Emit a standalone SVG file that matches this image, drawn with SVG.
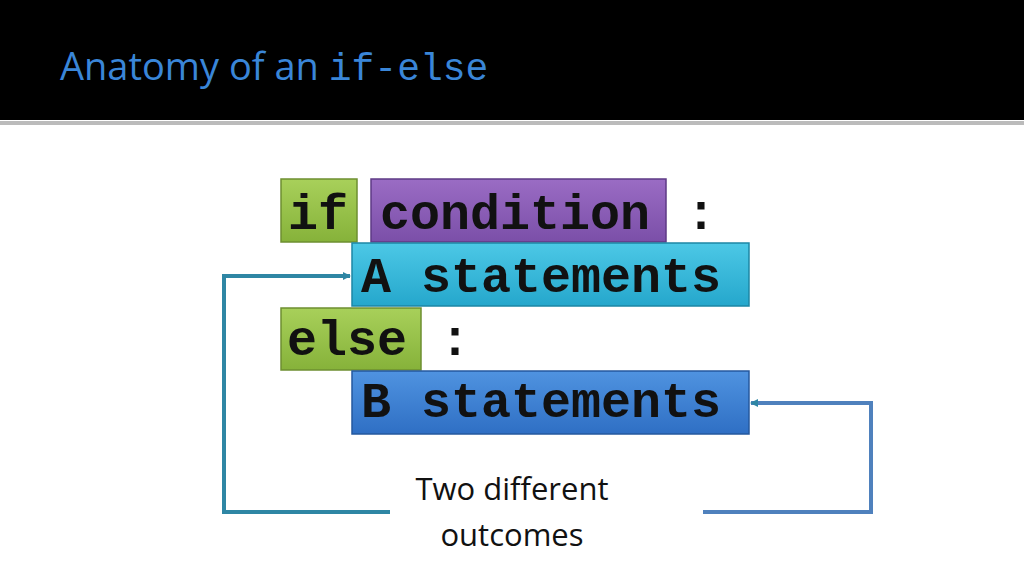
<svg xmlns="http://www.w3.org/2000/svg" width="1024" height="576" viewBox="0 0 1024 576">
<style>
.code{font-family:"Liberation Mono","Courier New",monospace;font-weight:bold;font-size:50px;fill:#111}
.lbl{font-family:"Open Sans","Liberation Sans",sans-serif;font-size:31px;fill:#111;text-anchor:middle}
.bx{stroke-width:1.5}
</style>
<defs>
<linearGradient id="g" x1="0" y1="0" x2="0" y2="1"><stop offset="0" stop-color="#a8d05a"/><stop offset="1" stop-color="#86b23a"/></linearGradient>
<linearGradient id="p" x1="0" y1="0" x2="0" y2="1"><stop offset="0" stop-color="#9a6cc4"/><stop offset="1" stop-color="#7b4fa8"/></linearGradient>
<linearGradient id="c" x1="0" y1="0" x2="0" y2="1"><stop offset="0" stop-color="#4cc8e6"/><stop offset="1" stop-color="#25a7cc"/></linearGradient>
<linearGradient id="b" x1="0" y1="0" x2="0" y2="1"><stop offset="0" stop-color="#4f93e0"/><stop offset="1" stop-color="#2f6fc4"/></linearGradient>
<marker id="a1" markerWidth="8" markerHeight="8" refX="7" refY="4" orient="auto" markerUnits="userSpaceOnUse" viewBox="0 0 8 8"><path d="M0,0L8,4L0,8z" fill="#2e86a4"/></marker>
<marker id="a2" markerWidth="8" markerHeight="8" refX="7" refY="4" orient="auto" viewBox="0 0 8 8"><path d="M0,0L8,4L0,8z" fill="#4f81bd"/></marker>
</defs>
<rect width="1024" height="576" fill="#fff"/>
<rect width="1024" height="120" fill="#000"/>
<rect y="121" width="1024" height="4" fill="#bbb"/>
<text x="60" y="80" font-family="Open Sans,Liberation Sans,sans-serif" font-size="38" fill="#3a86d8">Anatomy of an <tspan font-family="Liberation Mono,monospace" font-size="38">if-else</tspan></text>
<g id="if"><rect class="bx" x="281" y="179" width="76" height="63" fill="url(#g)" stroke="#6d8f30"/><text class="code" x="288" y="229">if</text></g>
<g id="condition"><rect class="bx" x="371" y="179" width="295" height="63" fill="url(#p)" stroke="#5e3a85"/><text class="code" x="380" y="229">condition</text></g>
<text class="code" x="686" y="229">:</text>
<g id="a"><rect class="bx" x="352" y="243" width="397" height="63" fill="url(#c)" stroke="#1d86a5"/><text class="code" x="361" y="292">A statements</text></g>
<g id="else"><rect class="bx" x="281" y="308" width="140" height="62" fill="url(#g)" stroke="#6d8f30"/><text class="code" x="287" y="355">else</text></g>
<text class="code" x="440" y="355">:</text>
<g id="b"><rect class="bx" x="352" y="371" width="397" height="63" fill="url(#b)" stroke="#24589e"/><text class="code" x="361" y="417">B statements</text></g>
<g id="connectors" fill="none" stroke-width="4">
<path d="M390,512H224V276H350" stroke="#2e86a4" marker-end="url(#a1)"/>
<path d="M703,512H871V403H751" stroke="#4f81bd" marker-end="url(#a1)"/>
</g>
<text class="lbl" x="512" y="500">Two different</text>
<text class="lbl" x="512" y="546">outcomes</text>
</svg>
